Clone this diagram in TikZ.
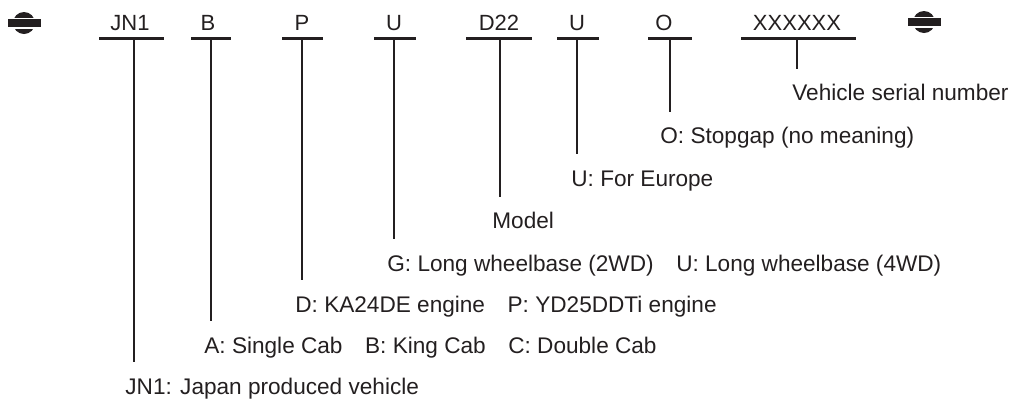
\documentclass[tikz,border=0pt]{standalone}
\usepackage{fontspec}
\setmainfont{Liberation Sans}
\usetikzlibrary{positioning}
\definecolor{ink}{HTML}{231F20}

\begin{document}
\begin{tikzpicture}[x=0.5pt, y=-0.5pt,
	code/.style={anchor=base, inner sep=0pt, text=ink,
	font=\fontsize{11}{13}\selectfont},
	desc/.style={anchor=base west, inner xsep=0pt, inner ysep=7.5pt,
	text height=8.1pt, text depth=2.3pt, text=ink,
	font=\fontsize{11.3}{13}\selectfont},
	bar/.style={draw=ink, line width=1.5pt},
	stem/.style={draw=ink, line width=0.75pt}
	]
	\useasboundingbox (0,0) rectangle (1012,403);
	
	% end marks
	\fill[ink] (24,23) circle (11);
	\fill[white] (8,17.5) rectangle (41,28.5);
	\fill[ink] (8,19) rectangle (41,27);
	\fill[ink] (924,22) circle (11);
	\fill[white] (908,16.5) rectangle (941,27.5);
	\fill[ink] (908,18) rectangle (941,26);
	
	% code characters
	\node[code] (jn1) at (130,30) {JN1};
	\node[code] (body) at (208,30) {B};
	\node[code] (engine) at (302,30) {P};
	\node[code] (wbase) at (394,30) {U};
	\node[code] (model) at (499,30) {D22};
	\node[code] (europe) at (577,30) {U};
	\node[code] (stop) at (664,30) {O};
	\node[code] (serial) at (797,30) {XXXXXX};
	
	\draw[bar] (99,38) -- (164,38);
	\draw[bar] (191,38) -- (231,38);
	\draw[bar] (282,38) -- (323,38);
	\draw[bar] (374,38) -- (416,38);
	\draw[bar] (466,38) -- (532,38);
	\draw[bar] (557,38) -- (599,38);
	\draw[bar] (648,38) -- (692,38);
	\draw[bar] (741,38) -- (856,38);
	
	\coordinate (jn1s) at (134,38);
	\coordinate (bodys) at (211,38);
	\coordinate (engines) at (302,38);
	\coordinate (wbases) at (394,38);
	\coordinate (models) at (500,38);
	\coordinate (europes) at (577,38);
	\coordinate (stops) at (670,38);
	\coordinate (serials) at (797,38);
	
	% meanings
	\node[desc] (serial-d) at (792,100.5) {Vehicle serial number};
	\node[desc] (stop-d) at (660,143.5) {O: Stopgap (no meaning)};
	\node[desc] (europe-d) at (571,186) {U: For Europe};
	\node[desc] (model-d) at (492,228.5) {Model};
	\node[desc] (wbase-d) at (387,271)
	{G: Long wheelbase (2WD)\quad U: Long wheelbase (4WD)};
	\node[desc] (engine-d) at (295,312)
	{D: KA24DE engine\quad P: YD25DDTi engine};
	\node[desc] (body-d) at (204,353)
	{A: Single Cab\quad B: King Cab\quad C: Double Cab};
	\node[desc] (jn1-d) at (125,394) {JN1: Japan produced vehicle};
	
	\draw[stem] (serials) -- (serials |- serial-d.north);
	\draw[stem] (stops) -- (stops |- stop-d.north);
	\draw[stem] (europes) -- (europes |- europe-d.north);
	\draw[stem] (models) -- (models |- model-d.north);
	\draw[stem] (wbases) -- (wbases |- wbase-d.north);
	\draw[stem] (engines) -- (engines |- engine-d.north);
	\draw[stem] (bodys) -- (bodys |- body-d.north);
	\draw[stem] (jn1s) -- (jn1s |- jn1-d.north);
\end{tikzpicture}
\end{document}
